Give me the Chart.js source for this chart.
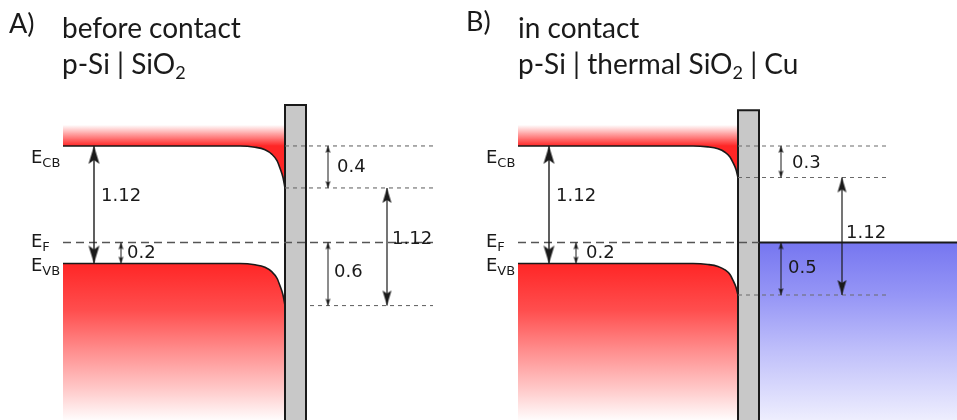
<!DOCTYPE html>
<html>
<head>
<meta charset="utf-8">
<script src="https://cdn.jsdelivr.net/npm/chart.js@4.4.1/dist/chart.umd.min.js"></script>
<style>
  html, body { margin: 0; padding: 0; background: #fff; }
</style>
</head>
<body>
<canvas id="bands" width="957" height="420"></canvas>
<script>
// energies in eV, measured from the Fermi level of p-Si
const panelLetters = ["A)", "B)"];
const panelTitles = ["before contact", "in contact"];
const panelStacks = [["p-Si | SiO", "2", ""], ["p-Si | thermal SiO", "2", " | Cu"]];
const bandGap = [1.12, 1.12];
const fermiAboveVB = [0.2, 0.2];
const bandBending = [0.4, 0.3];
const oxideTop = [1.31, 1.26];
const metalFermi = [null, 0];
const levelNames = [["E", "CB"], ["E", "F"], ["E", "VB"]];

// shape of the bent band edge close to the oxide: offset from the interface vs. share of the bending
const bendDx = [-45, -30, -20, -13, -8, -5, -2, 0];
const bendShare = [0, 0.03, 0.09, 0.2, 0.35, 0.53, 0.75, 1];

// axis range
const energyTop = 2.31;
const energyBottom = -1.69;

// horizontal layout of the two panels (canvas px)
const layout = [
  { x0: 63, ox: 285, oxW: 21, refEnd: 433, vbRefStart: 310, efEnd: 433,
    gapX: 94, fermiX: 121, bendX: 328, surfGapX: 387,
    letterX: 9, letterY: 33, textX: 62, nameX: 31,
    dx: { gap: 7, fermi: 6, bend: 9, surfGap: 5, surfVB: 6 },
    dy: { gap: -8, fermi: 0, bend: 0, surfGap: -7, surfVB: -2 } },
  { x0: 518, ox: 738, oxW: 21, refEnd: 887, vbRefStart: 738, efEnd: 759,
    gapX: 549, fermiX: 576, bendX: 781, surfGapX: 842,
    letterX: 466, letterY: 31, textX: 518, nameX: 486,
    dx: { gap: 7, fermi: 10, bend: 11, surfGap: 4, surfVB: 7 },
    dy: { gap: -8, fermi: 0, bend: 2, surfGap: -3, surfVB: 0 } }
];

const RED = "rgb(255,38,38)";
const INK = "#1a1a1a";
const FADE = 0.2;

function arrowHead(w, len, notch) {
  const c = document.createElement("canvas");
  c.width = Math.ceil(w) + 2;
  c.height = Math.ceil(len) * 2 + 2;
  const g = c.getContext("2d");
  const cx = c.width / 2, tip = c.height / 2;
  g.fillStyle = INK;
  g.beginPath();
  g.moveTo(cx, tip);
  g.lineTo(cx + w / 2, tip + len);
  g.lineTo(cx, tip + len - notch);
  g.lineTo(cx - w / 2, tip + len);
  g.closePath();
  g.fill();
  return c;
}
const bigHead = arrowHead(11, 18, 4);
const midHead = arrowHead(9, 15, 3);
const smallHead = arrowHead(5, 7, 1.5);

function vGradient(chart, eFrom, eTo, stops) {
  const y = chart.scales.y;
  const g = chart.ctx.createLinearGradient(0, y.getPixelForValue(eFrom), 0, y.getPixelForValue(eTo));
  stops.forEach(([o, c]) => g.addColorStop(o, c));
  return g;
}

function fmt(v) {
  return String(parseFloat(v.toFixed(2)));
}

const datasets = [];

panelLetters.forEach((_, p) => {
  const L = layout[p];
  const cb = bandGap[p] - fermiAboveVB[p];
  const vb = -fermiAboveVB[p];
  const bend = bandBending[p];
  const cbSurf = cb - bend;
  const vbSurf = vb - bend;

  const edge = (level) => [{ x: L.x0, y: level }].concat(
    bendDx.map((dx, i) => ({ x: L.ox + dx, y: level - bend * bendShare[i] })));

  // conduction band
  datasets.push({
    data: edge(cb), order: 50, borderColor: INK, borderWidth: 1.6, pointRadius: 0,
    cubicInterpolationMode: "monotone", fill: { value: cb + FADE },
    backgroundColor: (c) => c.chart.chartArea
      ? vGradient(c.chart, cb + FADE, cb, [[0, "rgba(255,38,38,0)"], [0.35, "rgba(255,38,38,0.35)"], [1, RED]])
      : RED
  });
  // valence band
  datasets.push({
    data: edge(vb), order: 50, borderColor: INK, borderWidth: 1.6, pointRadius: 0,
    cubicInterpolationMode: "monotone", fill: "start",
    backgroundColor: (c) => c.chart.chartArea
      ? vGradient(c.chart, vb, energyBottom, [[0, RED], [0.3, "rgb(255,78,78)"], [0.55, "rgb(255,140,140)"], [0.8, "rgb(255,200,200)"], [1, "rgb(255,252,252)"]])
      : RED
  });

  // Cu contact
  if (metalFermi[p] !== null) {
    const ef = metalFermi[p];
    datasets.push({
      data: [{ x: L.ox + L.oxW, y: ef }, { x: 957, y: ef }], order: 45,
      borderColor: INK, borderWidth: 2, pointRadius: 0, fill: "start",
      backgroundColor: (c) => c.chart.chartArea
        ? vGradient(c.chart, ef, energyBottom, [[0, "rgb(118,118,240)"], [0.3, "rgb(150,150,246)"], [0.6, "rgb(190,190,250)"], [1, "rgb(238,238,254)"]])
        : "rgb(150,150,246)"
    });
  }

  // oxide
  datasets.push({
    data: [{ x: L.ox, y: oxideTop[p] }, { x: L.ox + L.oxW, y: oxideTop[p] }], order: 40,
    borderWidth: 0, pointRadius: 0, fill: "start", backgroundColor: "#c8c8c8"
  });
  datasets.push({
    data: [{ x: L.ox, y: energyBottom }, { x: L.ox, y: oxideTop[p] },
           { x: L.ox + L.oxW, y: oxideTop[p] }, { x: L.ox + L.oxW, y: energyBottom }],
    order: 39, borderColor: INK, borderWidth: 2, pointRadius: 0, fill: false
  });

  // reference levels
  const dashed = (x1, x2, e, wide) => ({
    data: [{ x: x1, y: e }, { x: x2, y: e }], order: 30, pointRadius: 0, fill: false,
    borderColor: wide ? "#555" : "#6a6a6a", borderWidth: wide ? 1.6 : 1.1,
    borderDash: wide ? [8, 5] : [4, 4]
  });
  datasets.push(dashed(L.x0, L.efEnd, 0, true));
  datasets.push(dashed(L.ox, L.refEnd, cb, false));
  datasets.push(dashed(L.ox, L.refEnd, cbSurf, false));
  datasets.push(dashed(L.vbRefStart, L.refEnd, vbSurf, false));

  // dimension arrows
  const arrow = (x, lo, hi, head, width, key, value) => ({
    data: [{ x, y: lo }, { x, y: hi }], order: 10, fill: false,
    borderColor: INK, borderWidth: width,
    pointStyle: head, pointRadius: 4, pointRotation: [180, 0],
    valueLabel: fmt(value), labelDx: L.dx[key], labelDy: L.dy[key]
  });
  datasets.push(arrow(L.gapX, vb, cb, bigHead, 1.4, "gap", bandGap[p]));
  datasets.push(arrow(L.fermiX, vb, 0, smallHead, 1, "fermi", fermiAboveVB[p]));
  datasets.push(arrow(L.bendX, cbSurf, cb, smallHead, 1, "bend", bend));
  datasets.push(arrow(L.surfGapX, vbSurf, cbSurf, midHead, 1.2, "surfGap", cbSurf - vbSurf));
  datasets.push(arrow(L.bendX, vbSurf, 0, smallHead, 1, "surfVB", -vbSurf));
});

const textPlugin = {
  id: "bandText",
  afterDatasetsDraw(chart) {
    const ctx = chart.ctx;
    const y = chart.scales.y;
    ctx.save();
    ctx.fillStyle = INK;

    // values next to the arrows
    ctx.font = '18px "DejaVu Sans"';
    ctx.textBaseline = "middle";
    chart.data.datasets.forEach((ds, i) => {
      if (ds.valueLabel === undefined) return;
      const pts = chart.getDatasetMeta(i).data;
      ctx.fillText(ds.valueLabel, pts[0].x + ds.labelDx, (pts[0].y + pts[1].y) / 2 + ds.labelDy);
    });

    ctx.textBaseline = "alphabetic";
    panelLetters.forEach((letter, p) => {
      const L = layout[p];
      const levels = [bandGap[p] - fermiAboveVB[p], 0, -fermiAboveVB[p]];
      const drop = [17, 4.5, 7.5];
      levels.forEach((e, k) => {
        const by = y.getPixelForValue(e) + drop[k];
        ctx.font = '18px "DejaVu Sans"';
        ctx.fillText(levelNames[k][0], L.nameX, by);
        const w = ctx.measureText(levelNames[k][0]).width;
        ctx.font = '13px "DejaVu Sans"';
        ctx.fillText(levelNames[k][1], L.nameX + w, by + 4);
      });

      // panel headings
      ctx.font = '27px Lato';
      ctx.fillText(letter, L.letterX, L.letterY);
      ctx.font = '28px Lato';
      ctx.fillText(panelTitles[p], L.textX, 38);
      const [head, sub, tail] = panelStacks[p];
      ctx.fillText(head, L.textX, 74);
      let x = L.textX + ctx.measureText(head).width;
      ctx.font = '18px Lato';
      ctx.fillText(sub, x, 79);
      x += ctx.measureText(sub).width;
      ctx.font = '28px Lato';
      ctx.fillText(tail, x, 74);
    });
    ctx.restore();
  }
};

new Chart(document.getElementById("bands"), {
  type: "line",
  data: { datasets },
  options: {
    responsive: false,
    devicePixelRatio: 1,
    animation: false,
    events: [],
    layout: { padding: 0, autoPadding: false },
    plugins: { legend: { display: false }, tooltip: { enabled: false } },
    scales: {
      x: { type: "linear", min: 0, max: 957, display: false },
      y: { type: "linear", min: energyBottom, max: energyTop, display: false }
    }
  },
  plugins: [textPlugin]
});
</script>
</body>
</html>
